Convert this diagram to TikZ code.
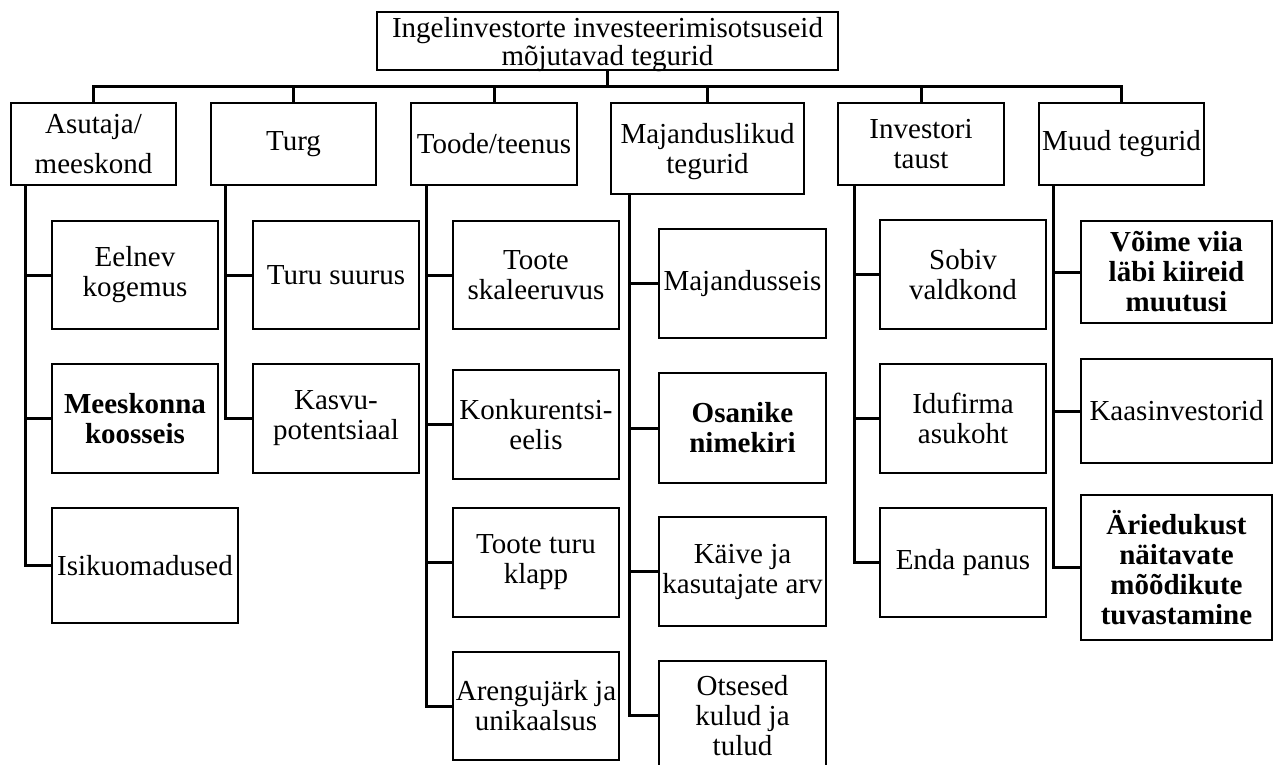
\documentclass[tikz,border=0pt]{standalone}
\usepackage{fontspec}
\setmainfont{Liberation Serif}
\begin{document}
\begin{tikzpicture}[x=1pt,y=-1pt,
  box/.style={draw,line width=2.8pt,rectangle,inner sep=0pt,align=center,
    font=\fontsize{29}{30}\selectfont},
  boldbox/.style={box,font=\fontsize{29}{30}\selectfont\bfseries},
  link/.style={line width=3pt}]
\useasboundingbox (0,0) rectangle (1277,764);
\clip (0,0) rectangle (1277,764);

% root
\node[box,minimum width=461pt,minimum height=58pt,font=\fontsize{29}{27.5}\selectfont]
  (root) at (607.5,41)
  {\raisebox{-4.5pt}[\height][\depth]{\begin{tabular}{@{}c@{}}Ingelinvestorte investeerimisotsuseid\\mõjutavad tegurid\end{tabular}}};

% categories
\node[box,minimum width=165pt,minimum height=82pt] (c1) at (93.5,144) {Asutaja/\\[10pt]meeskond};
\node[box,minimum width=165pt,minimum height=82pt] (c2) at (293.5,144) {Turg};
\node[box,minimum width=166pt,minimum height=82pt] (c3) at (494,144) {Toode/teenus};
\node[box,minimum width=193pt,minimum height=91pt] (c4) at (707.5,148.5)
  {\raisebox{-4pt}[\height][\depth]{\begin{tabular}{@{}c@{}}Majanduslikud\\tegurid\end{tabular}}};
\node[box,minimum width=166pt,minimum height=82pt] (c5) at (921,144) {Investori\\taust};
\node[box,minimum width=165pt,minimum height=82pt] (c6) at (1121.5,144) {Muud tegurid};

% founder / team
\node[box,minimum width=166pt,minimum height=108pt] (a1) at (135,275) {Eelnev\\kogemus};
\node[boldbox,minimum width=166pt,minimum height=109pt] (a2) at (135,418.5) {Meeskonna\\koosseis};
\node[box,minimum width=186pt,minimum height=115pt] (a3) at (145,565.5) {Isikuomadused};

% market
\node[box,minimum width=166pt,minimum height=108pt] (b1) at (336,275) {Turu suurus};
\node[box,minimum width=166pt,minimum height=109pt] (b2) at (336,418.5) {Kasvu-\\potentsiaal};

% product / service
\node[box,minimum width=166pt,minimum height=108pt] (d1) at (536,275) {Toote\\skaleeruvus};
\node[box,minimum width=166pt,minimum height=109pt] (d2) at (536,424.5) {Konkurentsi-\\eelis};
\node[box,minimum width=166pt,minimum height=109pt] (d3) at (536,562.5) {Toote turu\\klapp};
\node[box,minimum width=166pt,minimum height=108pt] (d4) at (536,706) {Arengujärk ja\\unikaalsus};

% economic factors
\node[box,minimum width=167pt,minimum height=109pt] (e1) at (742.5,283.5) {Majandusseis};
\node[boldbox,minimum width=167pt,minimum height=110pt] (e2) at (742.5,428) {Osanike\\nimekiri};
\node[box,minimum width=167pt,minimum height=109pt] (e3) at (742.5,571.5) {Käive ja\\kasutajate arv};
\node[box,minimum width=167pt,minimum height=109pt] (e4) at (742.5,715.5) {Otsesed\\kulud ja\\tulud};

% investor background
\node[box,minimum width=166pt,minimum height=109pt] (f1) at (963,274.5) {Sobiv\\valdkond};
\node[box,minimum width=166pt,minimum height=109pt] (f2) at (963,418.5) {Idufirma\\asukoht};
\node[box,minimum width=166pt,minimum height=109pt] (f3) at (963,562.5) {Enda panus};

% other factors
\node[boldbox,minimum width=191pt,minimum height=102pt] (g1) at (1176.5,272) {Võime viia\\läbi kiireid\\muutusi};
\node[box,minimum width=191pt,minimum height=104pt] (g2) at (1176.5,411) {Kaasinvestorid};
\node[boldbox,minimum width=191pt,minimum height=145pt] (g3) at (1176.5,567.5) {Äriedukust\\näitavate\\mõõdikute\\tuvastamine};

% root to categories
\foreach \c in {c1,c2,c3,c4,c5,c6}
  \draw[link] (root.south) -- ++(0,15) -| (\c.north);

% categories to their items
\foreach \k in {a1,a2,a3} \draw[link] ([xshift=16pt]c1.south west) |- (\k.west);
\foreach \k in {b1,b2} \draw[link] ([xshift=16pt]c2.south west) |- (\k.west);
\foreach \k in {d1,d2,d3,d4} \draw[link] ([xshift=17pt]c3.south west) |- (\k.west);
\foreach \k in {e1,e2,e3,e4} \draw[link] ([xshift=20pt]c4.south west) |- (\k.west);
\foreach \k in {f1,f2,f3} \draw[link] ([xshift=18pt]c5.south west) |- (\k.west);
\foreach \k in {g1,g2,g3} \draw[link] ([xshift=16pt]c6.south west) |- (\k.west);
\end{tikzpicture}
\end{document}
